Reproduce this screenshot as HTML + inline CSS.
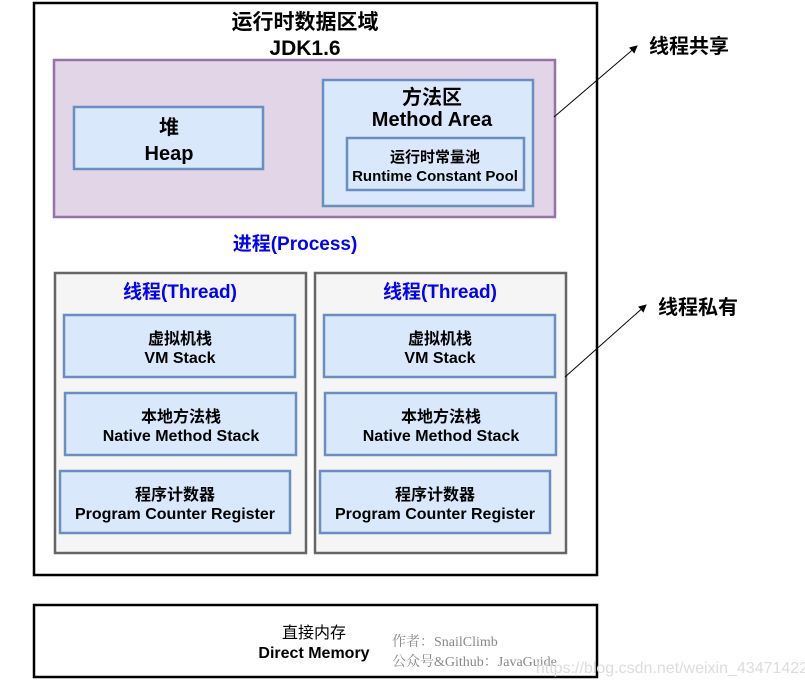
<!DOCTYPE html>
<html><head><meta charset="utf-8"><style>
body{margin:0;background:#fff;width:805px;height:687px;overflow:hidden}
svg text{font-family:"Liberation Sans","Noto Sans CJK SC",sans-serif;text-anchor:middle}
</style></head><body>
<svg width="805" height="687" viewBox="0 0 805 687" xmlns="http://www.w3.org/2000/svg">
<defs><marker id="a" markerWidth="8" markerHeight="8" refX="7" refY="4" orient="auto"><path d="M0,0 L8,4 L0,8 z" fill="#000"/></marker></defs>
<rect x="34" y="3" width="563" height="572" fill="#fff" stroke="#000" stroke-width="2.5"/>
<text x="305" y="29" font-size="21" font-weight="bold">运行时数据区域</text>
<text x="305" y="55" font-size="21" font-weight="bold">JDK1.6</text>
<rect x="54" y="60" width="501" height="157" fill="#e1d5e7" stroke="#9673a6" stroke-width="2.5"/>
<rect x="74" y="107" width="189" height="62" fill="#dae8fc" stroke="#6c8ebf" stroke-width="2.5"/>
<text x="169" y="134" font-size="20" font-weight="bold">堆</text>
<text x="169" y="160" font-size="20" font-weight="bold">Heap</text>
<rect x="323" y="80" width="210" height="126" fill="#dae8fc" stroke="#6c8ebf" stroke-width="2.5"/>
<text x="432" y="104" font-size="20" font-weight="bold">方法区</text>
<text x="432" y="126" font-size="20" font-weight="bold">Method Area</text>
<rect x="347" y="138" width="177" height="52" fill="#dae8fc" stroke="#6c8ebf" stroke-width="2.5"/>
<text x="435" y="162" font-size="15" font-weight="bold">运行时常量池</text>
<text x="435" y="181" font-size="15" font-weight="bold">Runtime Constant Pool</text>
<text x="295" y="250" font-size="19" font-weight="bold" fill="#0000ff">进程(Process)</text>
<g id="t">
<rect x="55" y="273" width="251" height="280" fill="#f5f5f5" stroke="#666" stroke-width="2.5"/>
<text x="180" y="298" font-size="19" font-weight="bold" fill="#0000ff">线程(Thread)</text>
<rect x="64" y="315" width="231" height="62" fill="#dae8fc" stroke="#6c8ebf" stroke-width="2.5"/>
<text x="180" y="344" font-size="16" font-weight="bold">虚拟机栈</text>
<text x="180" y="363" font-size="16" font-weight="bold">VM Stack</text>
<rect x="65" y="393" width="231" height="62" fill="#dae8fc" stroke="#6c8ebf" stroke-width="2.5"/>
<text x="181" y="422" font-size="16" font-weight="bold">本地方法栈</text>
<text x="181" y="441" font-size="16" font-weight="bold">Native Method Stack</text>
<rect x="60" y="471" width="230" height="62" fill="#dae8fc" stroke="#6c8ebf" stroke-width="2.5"/>
<text x="175" y="500" font-size="16" font-weight="bold">程序计数器</text>
<text x="175" y="519" font-size="16" font-weight="bold">Program Counter Register</text>
</g>
<use href="#t" x="260"/>
<line x1="554" y1="117" x2="637" y2="46" stroke="#000" stroke-width="1" marker-end="url(#a)"/>
<line x1="565" y1="377" x2="646" y2="305" stroke="#000" stroke-width="1" marker-end="url(#a)"/>
<text x="689" y="53" font-size="20" font-weight="bold">线程共享</text>
<text x="698" y="314" font-size="20" font-weight="bold">线程私有</text>
<rect x="34" y="605" width="563" height="72" fill="#fff" stroke="#000" stroke-width="2.5"/>
<text x="314" y="638" font-size="16">直接内存</text>
<text x="314" y="658" font-size="16" font-weight="bold">Direct Memory</text>
<text x="392" y="646" font-size="14" fill="#888" style="text-anchor:start;font-family:'Liberation Serif','Noto Serif CJK SC',serif">作者：SnailClimb</text>
<text x="392" y="666" font-size="14" fill="#888" style="text-anchor:start;font-family:'Liberation Serif','Noto Serif CJK SC',serif">公众号&amp;Github：JavaGuide</text>
<text x="672" y="673" font-size="16" fill="#ddd">https://blog.csdn.net/weixin_43471422</text>
</svg>
</body></html>
